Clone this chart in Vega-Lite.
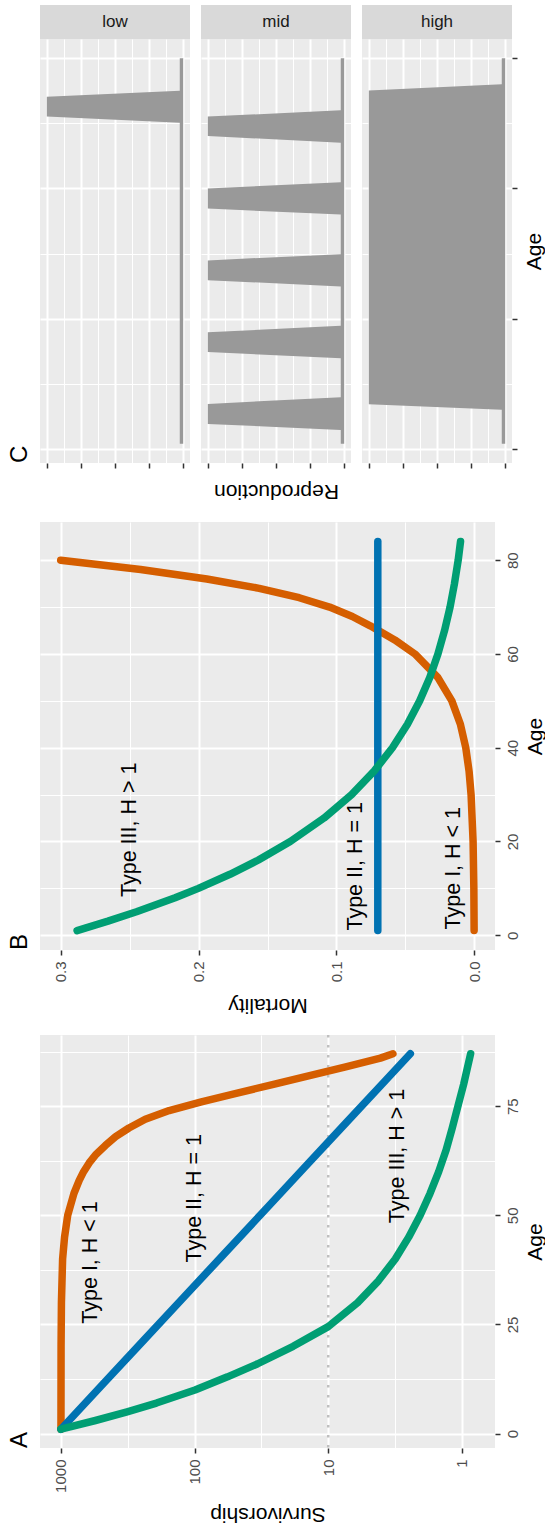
{
  "$schema": "https://vega.github.io/schema/vega-lite/v6.json",
  "padding": {"left": 8, "top": 5, "right": 0, "bottom": 8},
  "config": {
    "font": "Liberation Sans",
    "view": {"stroke": null, "fill": "#ebebeb"},
    "axis": {"domain": false, "grid": true, "gridColor": "#ffffff", "tickColor": "#333333", "tickWidth": 1.5, "tickSize": 5, "labelColor": "#4d4d4d", "labelFontSize": 15, "labelFont": "Liberation Sans", "titleFont": "Liberation Sans", "titleFontSize": 21, "titleFontWeight": "normal", "titleColor": "#000000", "labelFlush": false, "labelOverlap": false},
    "title": {"font": "Liberation Sans", "fontSize": 24, "fontWeight": "normal", "color": "#000000"}
  },
  "datasets": {
    "repro": [
      {"level": "low", "age": 1, "val": 0.025}, {"level": "low", "age": 62.6, "val": 0.025}, {"level": "low", "age": 63.8, "val": 1}, {"level": "low", "age": 67.6, "val": 1}, {"level": "low", "age": 68.75, "val": 0.025}, {"level": "low", "age": 75, "val": 0.025},
      {"level": "mid", "age": 1, "val": 0.025}, {"level": "mid", "age": 3.65, "val": 0.025}, {"level": "mid", "age": 4.8, "val": 1}, {"level": "mid", "age": 8.65, "val": 1}, {"level": "mid", "age": 9.9, "val": 0.025},
      {"level": "mid", "age": 17.4, "val": 0.025}, {"level": "mid", "age": 18.6, "val": 1}, {"level": "mid", "age": 22.4, "val": 1}, {"level": "mid", "age": 23.65, "val": 0.025},
      {"level": "mid", "age": 31.2, "val": 0.025}, {"level": "mid", "age": 32.4, "val": 1}, {"level": "mid", "age": 36.2, "val": 1}, {"level": "mid", "age": 37.4, "val": 0.025},
      {"level": "mid", "age": 45, "val": 0.025}, {"level": "mid", "age": 46.15, "val": 1}, {"level": "mid", "age": 50, "val": 1}, {"level": "mid", "age": 51.2, "val": 0.025},
      {"level": "mid", "age": 58.8, "val": 0.025}, {"level": "mid", "age": 60.06, "val": 1}, {"level": "mid", "age": 63.8, "val": 1}, {"level": "mid", "age": 65, "val": 0.025}, {"level": "mid", "age": 75, "val": 0.025},
      {"level": "high", "age": 1, "val": 0.025}, {"level": "high", "age": 7.5, "val": 0.025}, {"level": "high", "age": 8.6, "val": 1}, {"level": "high", "age": 68.8, "val": 1}, {"level": "high", "age": 70, "val": 0.025}, {"level": "high", "age": 75, "val": 0.025}
    ],
    "mort": [
      {"type": "I", "age": 1, "val": 0.00014}, {"type": "I", "age": 10, "val": 0.00034}, {"type": "I", "age": 20, "val": 0.00089}, {"type": "I", "age": 30, "val": 0.00235}, {"type": "I", "age": 35, "val": 0.00381}, {"type": "I", "age": 40, "val": 0.0062}, {"type": "I", "age": 45, "val": 0.0101}, {"type": "I", "age": 50, "val": 0.0163}, {"type": "I", "age": 55, "val": 0.0265}, {"type": "I", "age": 60, "val": 0.0431}, {"type": "I", "age": 63, "val": 0.0577}, {"type": "I", "age": 66, "val": 0.0755}, {"type": "I", "age": 68, "val": 0.0885}, {"type": "I", "age": 70, "val": 0.105}, {"type": "I", "age": 72, "val": 0.127}, {"type": "I", "age": 74, "val": 0.156}, {"type": "I", "age": 76, "val": 0.194}, {"type": "I", "age": 78, "val": 0.242}, {"type": "I", "age": 80, "val": 0.3},
      {"type": "II", "age": 1, "val": 0.07}, {"type": "II", "age": 20, "val": 0.07}, {"type": "II", "age": 40, "val": 0.07}, {"type": "II", "age": 60, "val": 0.07}, {"type": "II", "age": 84, "val": 0.07},
      {"type": "III", "age": 1, "val": 0.2881}, {"type": "III", "age": 3, "val": 0.2657}, {"type": "III", "age": 5, "val": 0.245}, {"type": "III", "age": 8, "val": 0.217}, {"type": "III", "age": 10, "val": 0.2001}, {"type": "III", "age": 13, "val": 0.1772}, {"type": "III", "age": 16, "val": 0.1569}, {"type": "III", "age": 20, "val": 0.1335}, {"type": "III", "age": 25, "val": 0.109}, {"type": "III", "age": 30, "val": 0.089}, {"type": "III", "age": 35, "val": 0.0727}, {"type": "III", "age": 40, "val": 0.0594}, {"type": "III", "age": 45, "val": 0.0485}, {"type": "III", "age": 50, "val": 0.0396}, {"type": "III", "age": 55, "val": 0.0323}, {"type": "III", "age": 60, "val": 0.0264}, {"type": "III", "age": 65, "val": 0.0216}, {"type": "III", "age": 70, "val": 0.0176}, {"type": "III", "age": 75, "val": 0.0144}, {"type": "III", "age": 80, "val": 0.0117}, {"type": "III", "age": 84, "val": 0.01}
    ],
    "surv": [
      {"type": "I", "age": 1, "val": 1000}, {"type": "I", "age": 20, "val": 998}, {"type": "I", "age": 30, "val": 992}, {"type": "I", "age": 40, "val": 972}, {"type": "I", "age": 45, "val": 940}, {"type": "I", "age": 50, "val": 890}, {"type": "I", "age": 55, "val": 800}, {"type": "I", "age": 58, "val": 730}, {"type": "I", "age": 60, "val": 677}, {"type": "I", "age": 62, "val": 615}, {"type": "I", "age": 64, "val": 545}, {"type": "I", "age": 66, "val": 465}, {"type": "I", "age": 68, "val": 390}, {"type": "I", "age": 70, "val": 310}, {"type": "I", "age": 72, "val": 234}, {"type": "I", "age": 74, "val": 155}, {"type": "I", "age": 76, "val": 89}, {"type": "I", "age": 78, "val": 48}, {"type": "I", "age": 80, "val": 25.7}, {"type": "I", "age": 82, "val": 13.8}, {"type": "I", "age": 84, "val": 7.4}, {"type": "I", "age": 86, "val": 4.07}, {"type": "I", "age": 87, "val": 3.28},
      {"type": "II", "age": 1, "val": 1000}, {"type": "II", "age": 11, "val": 496.6}, {"type": "II", "age": 21, "val": 246.6}, {"type": "II", "age": 31, "val": 122.5}, {"type": "II", "age": 41, "val": 60.8}, {"type": "II", "age": 51, "val": 30.2}, {"type": "II", "age": 61, "val": 15.0}, {"type": "II", "age": 71, "val": 7.45}, {"type": "II", "age": 81, "val": 3.7}, {"type": "II", "age": 87, "val": 2.43},
      {"type": "III", "age": 1, "val": 1000}, {"type": "III", "age": 3, "val": 552}, {"type": "III", "age": 5, "val": 320}, {"type": "III", "age": 7, "val": 193}, {"type": "III", "age": 10, "val": 99.3}, {"type": "III", "age": 13, "val": 56.7}, {"type": "III", "age": 16, "val": 33.7}, {"type": "III", "age": 20, "val": 18.3}, {"type": "III", "age": 24.5, "val": 10}, {"type": "III", "age": 30, "val": 6.02}, {"type": "III", "age": 35, "val": 4.21}, {"type": "III", "age": 40, "val": 3.15}, {"type": "III", "age": 45, "val": 2.5}, {"type": "III", "age": 50, "val": 2.05}, {"type": "III", "age": 55, "val": 1.73}, {"type": "III", "age": 60, "val": 1.49}, {"type": "III", "age": 65, "val": 1.31}, {"type": "III", "age": 70, "val": 1.18}, {"type": "III", "age": 75, "val": 1.07}, {"type": "III", "age": 80, "val": 0.97}, {"type": "III", "age": 87, "val": 0.86}
    ],
    "ann": [
      {"panel": "A", "label": "Type I, H < 1", "age": 39.2, "val": 600},
      {"panel": "A", "label": "Type II, H = 1", "age": 53.9, "val": 100},
      {"panel": "A", "label": "Type III, H > 1", "age": 63.6, "val": 3},
      {"panel": "B", "label": "Type III, H > 1", "age": 22.5, "val": 0.25},
      {"panel": "B", "label": "Type II, H = 1", "age": 14.7, "val": 0.086},
      {"panel": "B", "label": "Type I, H < 1", "age": 14.3, "val": 0.015}
    ]
  },
  "vconcat": [
    {
      "hconcat": [
        {
          "vconcat": [
            {"width": 150, "height": 34, "view": {"fill": "#d9d9d9", "stroke": null}, "data": {"values": [{"level": "low"}]}, "mark": {"type": "text", "fontSize": 17, "color": "#1a1a1a"}, "encoding": {"text": {"field": "level"}}},
            {"width": 150, "height": 424, "data": {"name": "repro"}, "transform": [{"filter": "datum.level === 'low'"}],
             "title": {"text": "C", "orient": "left", "anchor": "start", "frame": "group", "offset": 8},
             "mark": {"type": "area", "orient": "horizontal", "color": "#999999"},
             "encoding": {
               "y": {"field": "age", "type": "quantitative", "scale": {"domain": [-2.7, 78.7], "nice": false, "zero": false},
                     "axis": {"orient": "right", "title": null, "values": [0, 12.5, 25, 37.5, 50, 62.5, 75], "labels": false, "ticks": false, "gridWidth": {"condition": {"test": "datum.value % 25 === 0", "value": 2}, "value": 1}}},
               "x": {"field": "val", "type": "quantitative", "stack": null, "scale": {"domain": [-0.05, 1.05], "reverse": true, "nice": false, "zero": false},
                     "axis": {"orient": "bottom", "title": null, "values": [0, 0.125, 0.25, 0.375, 0.5, 0.625, 0.75, 0.875, 1], "labels": false, "tickOpacity": {"condition": {"test": "datum.value % 0.25 === 0", "value": 1}, "value": 0}, "gridWidth": {"condition": {"test": "datum.value % 0.25 === 0", "value": 2}, "value": 1}}},
               "x2": {"datum": 0}
             }}
          ],
          "spacing": 0, "bounds": "flush"
        },
        {
          "vconcat": [
            {"width": 150, "height": 34, "view": {"fill": "#d9d9d9", "stroke": null}, "data": {"values": [{"level": "mid"}]}, "mark": {"type": "text", "fontSize": 17, "color": "#1a1a1a"}, "encoding": {"text": {"field": "level"}}},
            {"width": 150, "height": 424, "data": {"name": "repro"}, "transform": [{"filter": "datum.level === 'mid'"}],
             "mark": {"type": "area", "orient": "horizontal", "color": "#999999"},
             "encoding": {
               "y": {"field": "age", "type": "quantitative", "scale": {"domain": [-2.7, 78.7], "nice": false, "zero": false},
                     "axis": {"orient": "right", "title": null, "values": [0, 12.5, 25, 37.5, 50, 62.5, 75], "labels": false, "ticks": false, "gridWidth": {"condition": {"test": "datum.value % 25 === 0", "value": 2}, "value": 1}}},
               "x": {"field": "val", "type": "quantitative", "stack": null, "scale": {"domain": [-0.05, 1.05], "reverse": true, "nice": false, "zero": false},
                     "axis": {"orient": "bottom", "title": "Reproduction", "titleAngle": 180, "titleBaseline": "bottom", "titlePadding": 12, "values": [0, 0.125, 0.25, 0.375, 0.5, 0.625, 0.75, 0.875, 1], "labels": false, "tickOpacity": {"condition": {"test": "datum.value % 0.25 === 0", "value": 1}, "value": 0}, "gridWidth": {"condition": {"test": "datum.value % 0.25 === 0", "value": 2}, "value": 1}}},
               "x2": {"datum": 0}
             }}
          ],
          "spacing": 0, "bounds": "flush"
        },
        {
          "vconcat": [
            {"width": 150, "height": 34, "view": {"fill": "#d9d9d9", "stroke": null}, "data": {"values": [{"level": "high"}]}, "mark": {"type": "text", "fontSize": 17, "color": "#1a1a1a"}, "encoding": {"text": {"field": "level"}}},
            {"width": 150, "height": 424, "data": {"name": "repro"}, "transform": [{"filter": "datum.level === 'high'"}],
             "mark": {"type": "area", "orient": "horizontal", "color": "#999999"},
             "encoding": {
               "y": {"field": "age", "type": "quantitative", "scale": {"domain": [-2.7, 78.7], "nice": false, "zero": false},
                     "axis": {"orient": "right", "title": "Age", "titleAngle": 270, "titleBaseline": "top", "titlePadding": 6, "values": [0, 12.5, 25, 37.5, 50, 62.5, 75], "labels": false, "tickOpacity": {"condition": {"test": "datum.value % 25 === 0", "value": 1}, "value": 0}, "gridWidth": {"condition": {"test": "datum.value % 25 === 0", "value": 2}, "value": 1}}},
               "x": {"field": "val", "type": "quantitative", "stack": null, "scale": {"domain": [-0.05, 1.05], "reverse": true, "nice": false, "zero": false},
                     "axis": {"orient": "bottom", "title": null, "values": [0, 0.125, 0.25, 0.375, 0.5, 0.625, 0.75, 0.875, 1], "labels": false, "tickOpacity": {"condition": {"test": "datum.value % 0.25 === 0", "value": 1}, "value": 0}, "gridWidth": {"condition": {"test": "datum.value % 0.25 === 0", "value": 2}, "value": 1}}},
               "x2": {"datum": 0}
             }}
          ],
          "spacing": 0, "bounds": "flush"
        }
      ],
      "spacing": 11
    },
    {
      "vconcat": [
        {
          "width": 455, "height": 428,
          "title": {"text": "B", "orient": "left", "anchor": "start", "frame": "group", "offset": 8},
          "layer": [
            {"data": {"name": "mort"},
             "mark": {"type": "line", "strokeWidth": 7.5, "strokeCap": "round", "strokeJoin": "round"},
             "encoding": {
               "x": {"field": "val", "type": "quantitative", "scale": {"domain": [-0.015, 0.315], "reverse": true, "nice": false, "zero": false},
                     "axis": {"orient": "bottom", "title": "Mortality", "values": [0, 0.05, 0.1, 0.15, 0.2, 0.25, 0.3], "format": ".1f", "labelExpr": "indexof([0, 0.1, 0.2, 0.3], datum.value) >= 0 ? datum.label : ''", "labelAngle": 270, "labelAlign": "right", "labelBaseline": "middle", "labelPadding": 6, "titleAngle": 180, "titleBaseline": "bottom", "titlePadding": 13, "tickOpacity": {"condition": {"test": "indexof([0, 0.1, 0.2, 0.3], datum.value) >= 0", "value": 1}, "value": 0}, "gridWidth": {"condition": {"test": "indexof([0, 0.1, 0.2, 0.3], datum.value) >= 0", "value": 2}, "value": 1}}},
               "y": {"field": "age", "type": "quantitative", "scale": {"domain": [-3.15, 88.15], "nice": false, "zero": false},
                     "axis": {"orient": "right", "title": "Age", "values": [0, 10, 20, 30, 40, 50, 60, 70, 80], "labelExpr": "datum.value % 20 === 0 ? datum.label : ''", "labelAngle": 270, "labelAlign": "center", "labelBaseline": "top", "labelPadding": 5, "titleAngle": 270, "titleBaseline": "top", "titlePadding": 4, "tickOpacity": {"condition": {"test": "datum.value % 20 === 0", "value": 1}, "value": 0}, "gridWidth": {"condition": {"test": "datum.value % 20 === 0", "value": 2}, "value": 1}}},
               "color": {"field": "type", "type": "nominal", "scale": {"domain": ["I", "II", "III"], "range": ["#D55E00", "#0072B2", "#009E73"]}, "legend": null},
               "order": {"field": "age", "type": "quantitative"}
             }},
            {"data": {"name": "ann"}, "transform": [{"filter": "datum.panel === 'B'"}],
             "mark": {"type": "text", "angle": 270, "fontSize": 21.5, "align": "center", "baseline": "middle", "color": "#000000"},
             "encoding": {"x": {"field": "val", "type": "quantitative"}, "y": {"field": "age", "type": "quantitative"}, "text": {"field": "label"}}}
          ]
        },
        {
          "width": 455, "height": 413,
          "title": {"text": "A", "orient": "left", "anchor": "start", "frame": "group", "offset": 8},
          "layer": [
            {"data": {"values": [{}]},
             "mark": {"type": "rule", "color": "#bfbfbf", "strokeWidth": 2.5, "strokeDash": [2.5, 7.5]},
             "encoding": {"x": {"datum": 10, "type": "quantitative"}}},
            {"data": {"name": "surv"},
             "mark": {"type": "line", "strokeWidth": 7.5, "strokeCap": "round", "strokeJoin": "round"},
             "encoding": {
               "x": {"field": "val", "type": "quantitative", "scale": {"type": "log", "domain": [0.565, 1435], "reverse": true, "nice": false, "zero": false},
                     "axis": {"orient": "bottom", "title": "Survivorship", "values": [1, 3.1623, 10, 31.623, 100, 316.23, 1000], "format": "d", "labelExpr": "indexof([1, 10, 100, 1000], datum.value) >= 0 ? datum.label : ''", "labelAngle": 270, "labelAlign": "right", "labelBaseline": "middle", "labelPadding": 6, "titleAngle": 180, "titleBaseline": "bottom", "titlePadding": 11, "tickOpacity": {"condition": {"test": "indexof([1, 10, 100, 1000], datum.value) >= 0", "value": 1}, "value": 0}, "gridWidth": {"condition": {"test": "indexof([1, 10, 100, 1000], datum.value) >= 0", "value": 2}, "value": 1}}},
               "y": {"field": "age", "type": "quantitative", "scale": {"domain": [-3.3, 91.3], "nice": false, "zero": false},
                     "axis": {"orient": "right", "title": "Age", "values": [0, 12.5, 25, 37.5, 50, 62.5, 75, 87.5], "labelExpr": "datum.value % 25 === 0 ? datum.label : ''", "labelAngle": 270, "labelAlign": "center", "labelBaseline": "top", "labelPadding": 5, "titleAngle": 270, "titleBaseline": "top", "titlePadding": 4, "tickOpacity": {"condition": {"test": "datum.value % 25 === 0", "value": 1}, "value": 0}, "gridWidth": {"condition": {"test": "datum.value % 25 === 0", "value": 2}, "value": 1}}},
               "color": {"field": "type", "type": "nominal", "scale": {"domain": ["I", "II", "III"], "range": ["#D55E00", "#0072B2", "#009E73"]}, "legend": null},
               "order": {"field": "age", "type": "quantitative"}
             }},
            {"data": {"name": "ann"}, "transform": [{"filter": "datum.panel === 'A'"}],
             "mark": {"type": "text", "angle": 270, "fontSize": 21.5, "align": "center", "baseline": "middle", "color": "#000000"},
             "encoding": {"x": {"field": "val", "type": "quantitative"}, "y": {"field": "age", "type": "quantitative"}, "text": {"field": "label"}}}
          ]
        }
      ],
      "spacing": 17
    }
  ],
  "spacing": 20
}
